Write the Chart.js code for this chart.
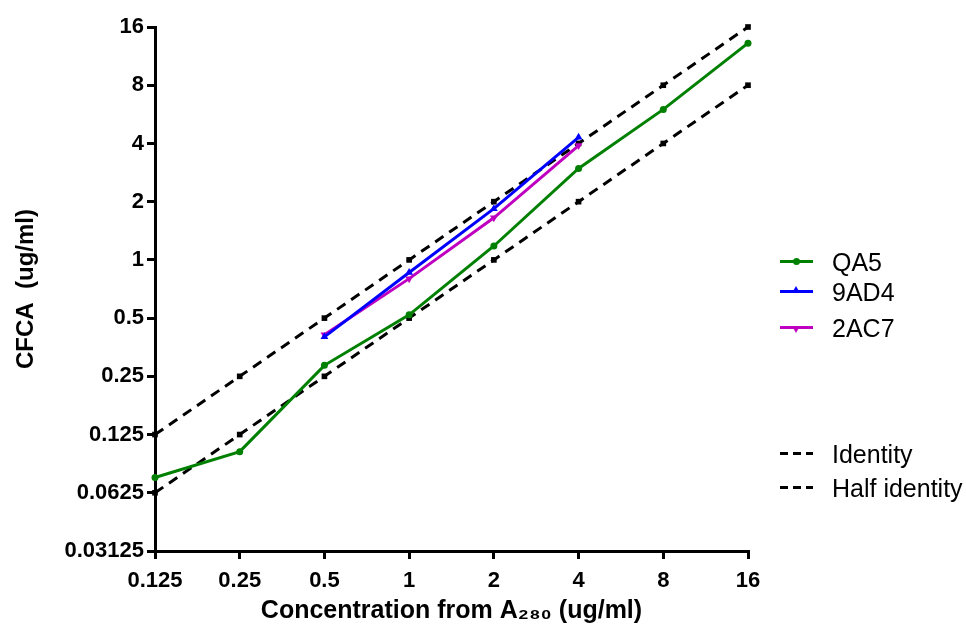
<!DOCTYPE html>
<html>
<head>
<meta charset="utf-8">
<script src="https://cdn.jsdelivr.net/npm/chart.js@4/dist/chart.umd.min.js"></script>
<style>
  html, body { margin: 0; padding: 0; background: #fff; }
  #wrap { position: relative; width: 966px; height: 627px; }
  canvas { position: absolute; left: 0; top: 0; }
  .leg { position: absolute; left: 0; height: 30px; width: 966px; font-family: 'Liberation Sans', Arial, sans-serif; font-size: 25px; color: #000; }
  .leg .line { position: absolute; left: 780px; top: 13px; width: 33px; height: 3px; }
  .leg .dash { position: absolute; left: 780px; top: 13px; width: 33px; height: 3px;
    background: repeating-linear-gradient(to right, #000 0 8px, transparent 8px 13px); }
  .leg .mk { position: absolute; }
  .leg .txt { position: absolute; left: 832px; top: 0; line-height: 30px; white-space: nowrap; }
</style>
</head>
<body>
<div id="wrap">
  <canvas id="c" width="966" height="627"></canvas>
  <div class="leg" style="top:247px">
    <div class="line" style="background:#008000"></div>
    <div class="mk" style="left:793px;top:11px;width:7px;height:7px;border-radius:50%;background:#008000"></div>
    <span class="txt">QA5</span>
  </div>
  <div class="leg" style="top:277px">
    <div class="line" style="background:#0000ff"></div>
    <div class="mk" style="left:792px;top:9px;width:0;height:0;border-left:4px solid transparent;border-right:4px solid transparent;border-bottom:7px solid #0000ff"></div>
    <span class="txt">9AD4</span>
  </div>
  <div class="leg" style="top:313px">
    <div class="line" style="background:#c000c0"></div>
    <div class="mk" style="left:792px;top:13px;width:0;height:0;border-left:4px solid transparent;border-right:4px solid transparent;border-top:7px solid #c000c0"></div>
    <span class="txt">2AC7</span>
  </div>
  <div class="leg" style="top:439px">
    <div class="dash"></div>
    <span class="txt">Identity</span>
  </div>
  <div class="leg" style="top:473px">
    <div class="dash"></div>
    <span class="txt">Half identity</span>
  </div>
</div>
<script>
const xTicks = [0.125, 0.25, 0.5, 1, 2, 4, 8, 16];
const xTickLabels = ['0.125', '0.25', '0.5', '1', '2', '4', '8', '16'];
const yTicks = [0.03125, 0.0625, 0.125, 0.25, 0.5, 1, 2, 4, 8, 16];
const yTickLabels = ['0.03125', '0.0625', '0.125', '0.25', '0.5', '1', '2', '4', '8', '16'];

const qa5X = [0.125, 0.25, 0.5, 1, 2, 4, 8, 16];
const qa5Y = [0.075, 0.102, 0.285, 0.52, 1.18, 2.97, 6.0, 13.2];
const ad4X = [0.5, 1, 2, 4];
const ad4Y = [0.40, 0.86, 1.84, 4.3];
const ac7X = [0.5, 1, 2, 4];
const ac7Y = [0.41, 0.80, 1.65, 3.9];
const identityX = [0.125, 0.25, 0.5, 1, 2, 4, 8, 16];
const identityY = [0.125, 0.25, 0.5, 1, 2, 4, 8, 16];
const halfX = [0.125, 0.25, 0.5, 1, 2, 4, 8, 16];
const halfY = [0.0625, 0.125, 0.25, 0.5, 1, 2, 4, 8];

const pts = (xs, ys) => xs.map((x, i) => ({ x: x, y: ys[i] }));
const FONT = "'Liberation Sans', Arial, sans-serif";

new Chart(document.getElementById('c'), {
  type: 'line',
  data: {
    datasets: [
      { label: 'QA5', data: pts(qa5X, qa5Y), borderColor: '#008000', backgroundColor: '#008000',
        borderWidth: 3, pointStyle: 'circle', pointRadius: 3.5, pointBorderWidth: 0, tension: 0 },
      { label: '9AD4', data: pts(ad4X, ad4Y), borderColor: '#0000ff', backgroundColor: '#0000ff',
        borderWidth: 3, pointStyle: 'triangle', pointRadius: 4.5, pointBorderWidth: 0, tension: 0 },
      { label: '2AC7', data: pts(ac7X, ac7Y), borderColor: '#c000c0', backgroundColor: '#c000c0',
        borderWidth: 3, pointStyle: 'triangle', pointRotation: 180, pointRadius: 4.5, pointBorderWidth: 0, tension: 0 },
      { label: 'Identity', data: pts(identityX, identityY), borderColor: '#000', backgroundColor: '#000',
        borderWidth: 3, borderDash: [10, 7], pointStyle: 'rect', pointRadius: 4, pointBorderWidth: 0, tension: 0 },
      { label: 'Half identity', data: pts(halfX, halfY), borderColor: '#000', backgroundColor: '#000',
        borderWidth: 3, borderDash: [10, 7], pointStyle: 'rect', pointRadius: 4, pointBorderWidth: 0, tension: 0 }
    ]
  },
  options: {
    responsive: false,
    animation: false,
    clip: false,
    layout: { padding: { top: 27, right: 218, left: 0, bottom: 0 } },
    plugins: { legend: { display: false }, tooltip: { enabled: false } },
    scales: {
      x: {
        type: 'logarithmic', min: 0.125, max: 16,
        afterBuildTicks: s => { s.ticks = xTicks.map(v => ({ value: v })); },
        afterFit: s => { s.height = 76; },
        ticks: {
          callback: v => { const i = xTicks.indexOf(v); return i >= 0 ? xTickLabels[i] : ''; },
          autoSkip: false, maxRotation: 0, minRotation: 0, padding: 9,
          color: '#000', font: { family: FONT, size: 22, weight: 'bold' }
        },
        grid: { display: true, drawOnChartArea: false, drawTicks: true, tickLength: 8, color: '#000', lineWidth: 3 },
        border: { display: true, color: '#000', width: 3 },
        title: { display: true, text: 'Concentration from A₂₈₀ (ug/ml)', color: '#000',
          font: { family: FONT, size: 25, weight: 'bold' }, padding: { top: 0, bottom: 1 } }
      },
      y: {
        type: 'logarithmic', min: 0.03125, max: 16,
        afterBuildTicks: s => { s.ticks = yTicks.map(v => ({ value: v })); },
        afterFit: s => { s.width = 155; },
        ticks: {
          callback: v => { const i = yTicks.indexOf(v); return i >= 0 ? yTickLabels[i] : ''; },
          autoSkip: false, padding: 3,
          color: '#000', font: { family: FONT, size: 22, weight: 'bold' }
        },
        grid: { display: true, drawOnChartArea: false, drawTicks: true, tickLength: 8, color: '#000', lineWidth: 3 },
        border: { display: true, color: '#000', width: 3 },
        title: { display: true, text: 'CFCA  (ug/ml)', color: '#000',
          font: { family: FONT, size: 24, weight: 'bold' }, padding: { top: 12, bottom: 0 } }
      }
    }
  }
});
</script>
</body>
</html>
